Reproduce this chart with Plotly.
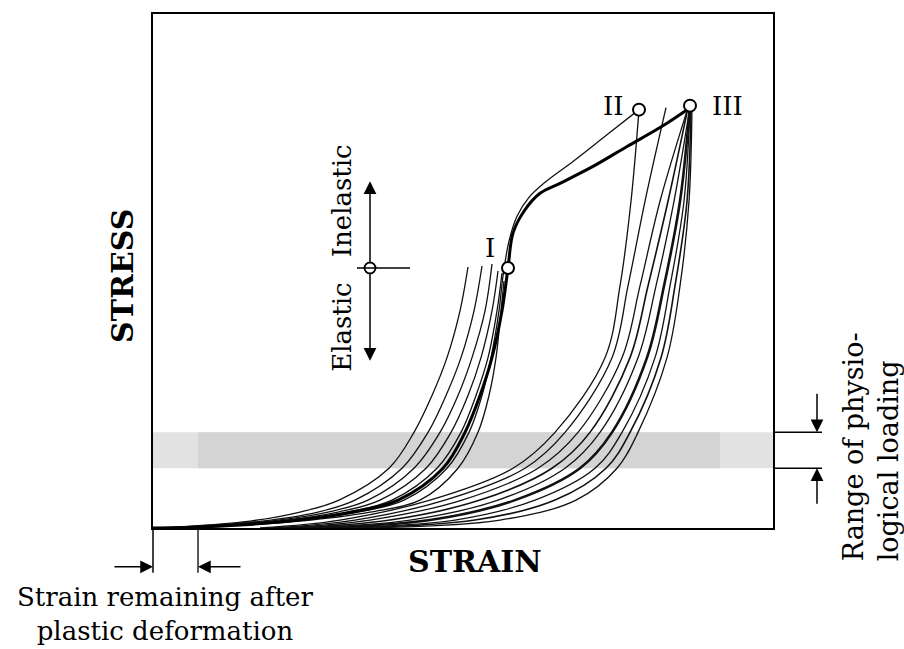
import plotly.graph_objects as go

# ---------------- data (strain, stress in schematic units) ----------------
# loading curves of the left bundle (end in the elastic region near point I)
load_curves_x = [
    [5, 97, 147, 186, 236, 261, 279, 294, 307, 315],
    [12, 109, 165, 202, 249, 275, 293, 308, 321, 329],
    [17, 117, 175, 215, 261, 287, 305, 319, 332, 339],
    [22, 125, 185, 227, 273, 298, 315, 328, 339, 345],
    [27, 132, 195, 239, 284, 308, 323, 335, 344, 349],
    [37, 147, 217, 267, 305, 325, 336, 343, 348, 351],
]
load_curves_y = [
    [0, 7, 16, 28, 60, 96, 133, 171, 218, 262],
    [0, 7, 16, 28, 60, 96, 133, 171, 218, 263],
    [0, 7, 16, 28, 60, 96, 133, 171, 218, 265],
    [0, 7, 16, 28, 60, 96, 133, 171, 218, 258],
    [0, 7, 16, 28, 60, 96, 133, 171, 218, 256],
    [0, 7, 16, 28, 60, 96, 133, 171, 218, 248],
]

# loading curve to point II
curve_II_x = [32, 139, 205, 251, 294, 316, 329, 338, 346, 350, 356, 364, 376, 392, 420, 453, 486]
curve_II_y = [0, 7, 16, 28, 60, 96, 133, 171, 218, 253, 288, 313, 332, 347, 368, 394, 420]

# main (thick) loading curve through I to III
main_x = [0, 47, 137, 199, 245, 290, 312, 327, 339, 349, 355, 360, 371, 387, 407, 440, 474, 507, 537]
main_y = [0, 1, 7, 16, 28, 60, 96, 133, 171, 218, 261, 296, 318, 336, 346, 363, 383, 402, 422]

# unloading curves of the right bundle (from II / III back to zero stress)
unload_curves_x = [
    [486, 478, 467, 452, 402, 360, 277, 187, 107],
    [513, 492, 475, 459, 412, 372, 292, 202, 117],
    [535, 507, 487, 469, 425, 385, 309, 217, 127],
    [535, 515, 495, 477, 437, 399, 327, 237, 137],
    [537, 521, 503, 485, 447, 412, 345, 257, 147],
    [537, 527, 511, 494, 459, 427, 362, 277, 157],
    [537, 531, 517, 502, 469, 442, 382, 302, 167],
    [538, 534, 522, 508, 477, 453, 402, 322, 182],
    [539, 536, 527, 514, 485, 464, 423, 347, 207],
]
unload_curves_y = [
    [420, 328, 243, 171, 96, 60, 28, 8, 0],
    [422, 328, 243, 171, 96, 60, 28, 8, 0],
    [422, 328, 243, 171, 96, 60, 28, 8, 0],
    [422, 328, 243, 171, 96, 60, 28, 8, 0],
    [423, 328, 243, 171, 96, 60, 28, 8, 0],
    [424, 328, 243, 171, 96, 60, 28, 8, 0],
    [422, 328, 243, 171, 96, 60, 28, 8, 0],
    [422, 328, 243, 171, 96, 60, 28, 8, 0],
    [422, 328, 243, 171, 96, 60, 28, 8, 0],
]
unload_widths = [1.3, 1.3, 1.3, 1.6, 1.3, 2.6, 1.3, 1.6, 1.3]

# marked points
point_labels = ["I", "II", "III"]
point_x = [355, 486, 537]
point_y = [261, 420, 424]

# elastic / inelastic boundary marker
boundary_x = [217]
boundary_y = [261]

# range of physiological loading (stress band)
band_low, band_high = 60, 96
# strain remaining after plastic deformation
residual_strain = 45

X_MAX, Y_MAX = 620, 516
FONT = "DejaVu Serif"

fig = go.Figure()

thin = dict(color="#111111", width=1.3, shape="spline", smoothing=1.0)
for xs, ys in zip(load_curves_x, load_curves_y):
    fig.add_trace(go.Scatter(x=xs, y=ys, mode="lines", line=thin, hoverinfo="skip"))
fig.add_trace(go.Scatter(x=curve_II_x, y=curve_II_y, mode="lines", line=thin, hoverinfo="skip"))
for xs, ys, w in zip(unload_curves_x, unload_curves_y, unload_widths):
    fig.add_trace(go.Scatter(x=xs, y=ys, mode="lines",
                             line=dict(color="#111111", width=w, shape="spline", smoothing=1.0),
                             hoverinfo="skip"))
fig.add_trace(go.Scatter(x=main_x, y=main_y, mode="lines",
                         line=dict(color="#000000", width=3, shape="spline", smoothing=1.0),
                         hoverinfo="skip"))
fig.add_trace(go.Scatter(x=point_x, y=point_y, mode="markers",
                         marker=dict(size=12, color="white", line=dict(color="black", width=2)),
                         hoverinfo="skip"))

# ---------- shapes ----------
# stress band
fig.add_shape(type="rect", xref="x", yref="y", x0=0, x1=X_MAX, y0=band_low, y1=band_high,
              fillcolor="#e2e2e2", line=dict(width=0), layer="below")
fig.add_shape(type="rect", xref="x", yref="y", x0=residual_strain, x1=567, y0=band_low, y1=band_high,
              fillcolor="#d4d4d4", line=dict(width=0), layer="below")

def px(v):
    return v / X_MAX

def py(v):
    return v / Y_MAX

# band ticks on the right
for yv in (band_low, band_high):
    fig.add_shape(type="line", xref="paper", yref="paper", x0=1.0, x1=px(669), y0=py(yv), y1=py(yv),
                  line=dict(color="black", width=1.5))
# vertical lines for residual strain
fig.add_shape(type="line", xref="paper", yref="paper", x0=0, x1=0, y0=0, y1=py(-45),
              line=dict(color="black", width=1.5))
fig.add_shape(type="line", xref="paper", yref="paper", x0=px(residual_strain), x1=px(residual_strain),
              y0=0, y1=py(-45), line=dict(color="black", width=1.3))

# elastic / inelastic indicator
ex, ey = boundary_x[0], boundary_y[0]
fig.add_shape(type="line", xref="x", yref="y", x0=204, x1=257, y0=ey, y1=ey,
              line=dict(color="black", width=1.5))

fig.add_trace(go.Scatter(x=boundary_x, y=boundary_y, mode="markers",
                         marker=dict(size=11, color="white", line=dict(color="black", width=1.8)),
                         hoverinfo="skip"))

annotations = []
arrow_common = dict(showarrow=True, arrowhead=2, arrowsize=1.7, arrowwidth=1.5,
                    arrowcolor="black", text="")
annotations.append(dict(x=ex, y=348, xref="x", yref="y", ax=0, ay=82, **arrow_common))
annotations.append(dict(x=ex, y=168, xref="x", yref="y", ax=0, ay=-88, **arrow_common))
# physiological loading arrows
annotations.append(dict(x=px(664), y=py(band_high), xref="paper", yref="paper", ax=0, ay=-40, **arrow_common))
annotations.append(dict(x=px(664), y=py(band_low), xref="paper", yref="paper", ax=0, ay=37, **arrow_common))
# residual strain arrows
annotations.append(dict(x=0, y=py(-39), xref="paper", yref="paper", ax=-40, ay=0, **arrow_common))
annotations.append(dict(x=px(residual_strain), y=py(-39), xref="paper", yref="paper", ax=44, ay=0, **arrow_common))

txt = dict(showarrow=False, xanchor="center", yanchor="middle",
           font=dict(family=FONT, size=26, color="black"))
annotations.append(dict(x=189, y=328, xref="x", yref="y", text="Inelastic", textangle=-90, **txt))
annotations.append(dict(x=189, y=201, xref="x", yref="y", text="Elastic", textangle=-90, **txt))
annotations.append(dict(x=337, y=281, xref="x", yref="y", text=point_labels[0], **txt))
annotations.append(dict(x=460, y=424, xref="x", yref="y", text=point_labels[1], **txt))
annotations.append(dict(x=574, y=424, xref="x", yref="y", text=point_labels[2], **txt))

bold = dict(showarrow=False, xanchor="center", yanchor="middle",
            font=dict(family=FONT, size=30, color="black"))
annotations.append(dict(x=px(-30), y=py(253), xref="paper", yref="paper", text="<b>STRESS</b>",
                        textangle=-90, **bold))
annotations.append(dict(x=px(322), y=py(-34), xref="paper", yref="paper", text="<b>STRAIN</b>", **bold))
annotations.append(dict(x=px(12), y=py(-86), xref="paper", yref="paper",
                        text="Strain remaining after<br>plastic deformation", align="center", **txt))
annotations.append(dict(x=px(718), y=py(82), xref="paper", yref="paper",
                        text="Range of physio-<br>logical loading", textangle=-90, align="left",
                        showarrow=False, xanchor="center", yanchor="middle",
                        font=dict(family=FONT, size=27, color="black")))

fig.update_layout(
    width=904, height=649,
    margin=dict(l=153, r=131, t=12, b=121),
    paper_bgcolor="white", plot_bgcolor="white",
    showlegend=False,
    annotations=annotations,
    xaxis=dict(range=[0, X_MAX], showline=True, mirror=True, linecolor="black", linewidth=2,
               showticklabels=False, showgrid=False, zeroline=False, ticks=""),
    yaxis=dict(range=[0, Y_MAX], showline=True, mirror=True, linecolor="black", linewidth=2,
               showticklabels=False, showgrid=False, zeroline=False, ticks=""),
)

fig.write_html("out.html")
